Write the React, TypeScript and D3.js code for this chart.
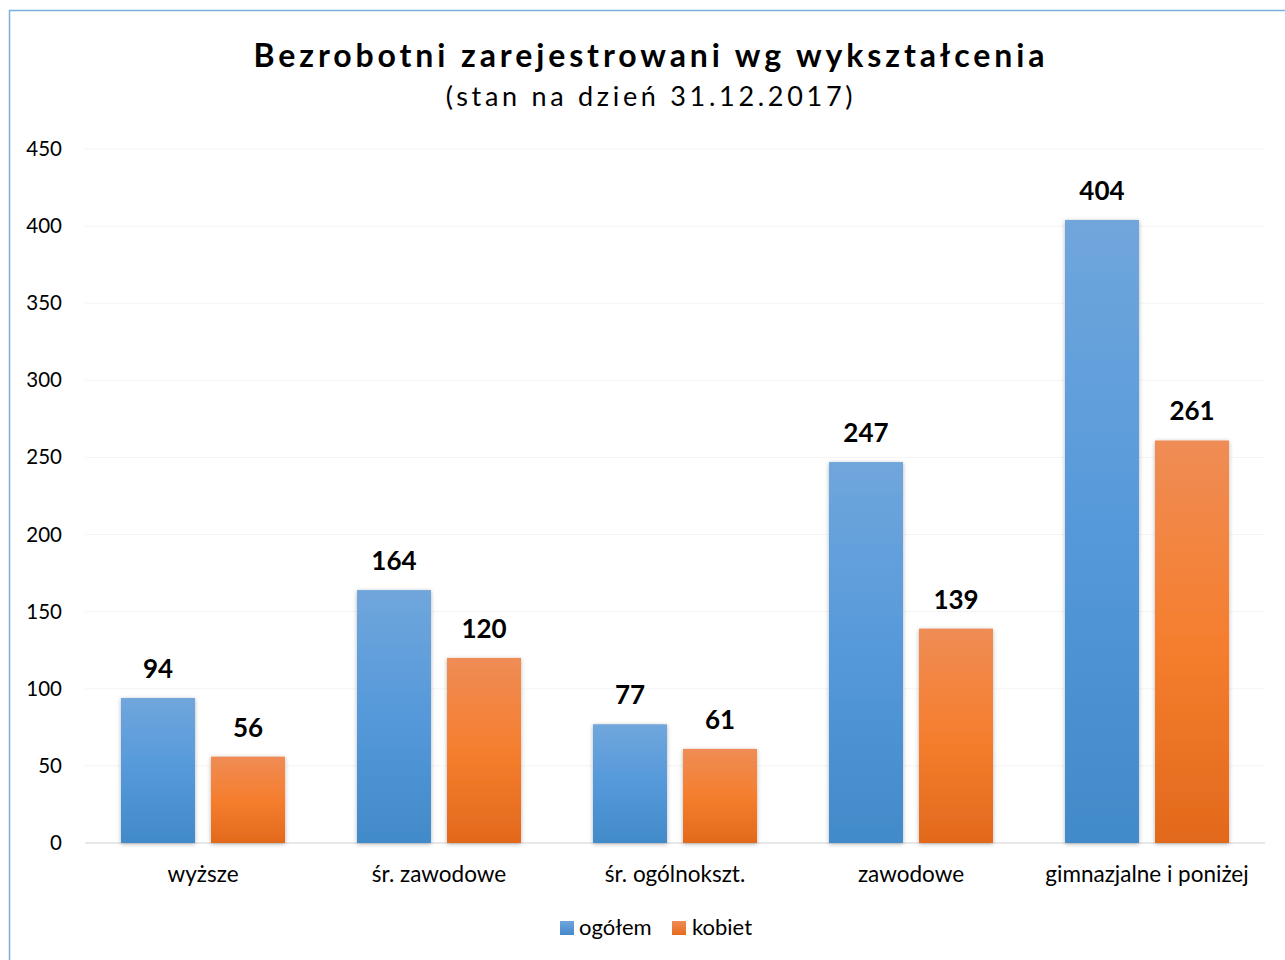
import React from "react";
import * as d3 from "d3";

const categories = ["wyższe", "śr. zawodowe", "śr. ogólnokszt.", "zawodowe", "gimnazjalne i poniżej"];
const seriesNames = ["ogółem", "kobiet"];
const ogolem = [94, 164, 77, 247, 404];
const kobiet = [56, 120, 61, 139, 261];
const yTicks = [0, 50, 100, 150, 200, 250, 300, 350, 400, 450];

const W = 1285;
const H = 960;
const FONT = "Lato, 'Open Sans', sans-serif";

export default function App() {
  const left = 85, right = 1265, top = 149, bottom = 843;
  const x = d3.scaleBand<string>().domain(categories).range([left, right]).paddingInner(0).paddingOuter(0);
  const y = d3.scaleLinear().domain([0, 450]).range([bottom, top]);
  const step = x.bandwidth();
  const inner = d3.scaleBand<string>().domain(seriesNames).range([step * 0.1525, step * 0.8475]).paddingInner(0.178);
  const series = [
    { name: seriesNames[0], values: ogolem, grad: "gBlue" },
    { name: seriesNames[1], values: kobiet, grad: "gOrange" },
  ];
  return (
    <svg width={W} height={H} style={{ position: "absolute", left: 0, top: 0, display: "block" }}>
      <defs>
        <linearGradient id="gBlue" x1="0" y1="0" x2="0" y2="1">
          <stop offset="0" stopColor="#70a6dc" />
          <stop offset="0.5" stopColor="#5599da" />
          <stop offset="1" stopColor="#428ac9" />
        </linearGradient>
        <linearGradient id="gOrange" x1="0" y1="0" x2="0" y2="1">
          <stop offset="0" stopColor="#ef8c55" />
          <stop offset="0.5" stopColor="#f57e2e" />
          <stop offset="1" stopColor="#e2691c" />
        </linearGradient>
        <linearGradient id="lBlue" x1="0" y1="0" x2="0" y2="1">
          <stop offset="0" stopColor="#6fa5dc" />
          <stop offset="1" stopColor="#4589ca" />
        </linearGradient>
        <linearGradient id="lOrange" x1="0" y1="0" x2="0" y2="1">
          <stop offset="0" stopColor="#f08c55" />
          <stop offset="1" stopColor="#e56b1e" />
        </linearGradient>
        <filter id="shadow" x="-20%" y="-20%" width="140%" height="140%">
          <feDropShadow dx="0" dy="1" stdDeviation="2" floodColor="#000" floodOpacity="0.3" />
        </filter>
      </defs>
      <rect x={0} y={0} width={W} height={H} fill="#fff" />
      <rect x={9.5} y={10.5} width={W + 20} height={H + 20} fill="#fff" stroke="#7eaee0" strokeWidth={1.5} />
      <text x={651} y={67} textAnchor="middle" fontFamily={FONT} fontWeight="bold" fontSize={32} letterSpacing={3.9} fill="#000">
        Bezrobotni zarejestrowani wg wykształcenia
      </text>
      <text x={651} y={106} textAnchor="middle" fontFamily={FONT} fontSize={27} letterSpacing={3.7} fill="#000">
        (stan na dzień 31.12.2017)
      </text>
      {yTicks.map((t) => (
        <g key={t}>
          {t > 0 && <line x1={left} x2={right} y1={y(t)} y2={y(t)} stroke="#f4f4f4" strokeWidth={1} />}
          <text x={62} y={y(t) + 7} textAnchor="end" fontFamily={FONT} fontSize={20.5} fill="#000">
            {t}
          </text>
        </g>
      ))}
      <line x1={left} x2={right} y1={y(0)} y2={y(0)} stroke="#e0e0e0" strokeWidth={1.5} />
      {series.map((s) => (
        <g key={s.name}>
          {categories.map((c, i) => {
            const bx = (x(c) as number) + (inner(s.name) as number);
            const bw = inner.bandwidth();
            const by = y(s.values[i]);
            return (
              <g key={c}>
                <rect x={bx} y={by} width={bw} height={y(0) - by} fill={`url(#${s.grad})`} filter="url(#shadow)" />
                <text x={bx + bw / 2} y={by - 20} textAnchor="middle" fontFamily={FONT} fontWeight="bold" fontSize={26} fill="#000">
                  {s.values[i]}
                </text>
              </g>
            );
          })}
        </g>
      ))}
      {categories.map((c) => (
        <text key={c} x={(x(c) as number) + step / 2} y={882} textAnchor="middle" fontFamily={FONT} fontSize={22.5} fill="#000">
          {c}
        </text>
      ))}
      <g>
        <rect x={560} y={921} width={14} height={14} fill="url(#lBlue)" />
        <text x={579} y={935} fontFamily={FONT} fontSize={22} fill="#000">{seriesNames[0]}</text>
        <rect x={672} y={921} width={14} height={14} fill="url(#lOrange)" />
        <text x={692} y={935} fontFamily={FONT} fontSize={22} fill="#000">{seriesNames[1]}</text>
      </g>
    </svg>
  );
}
